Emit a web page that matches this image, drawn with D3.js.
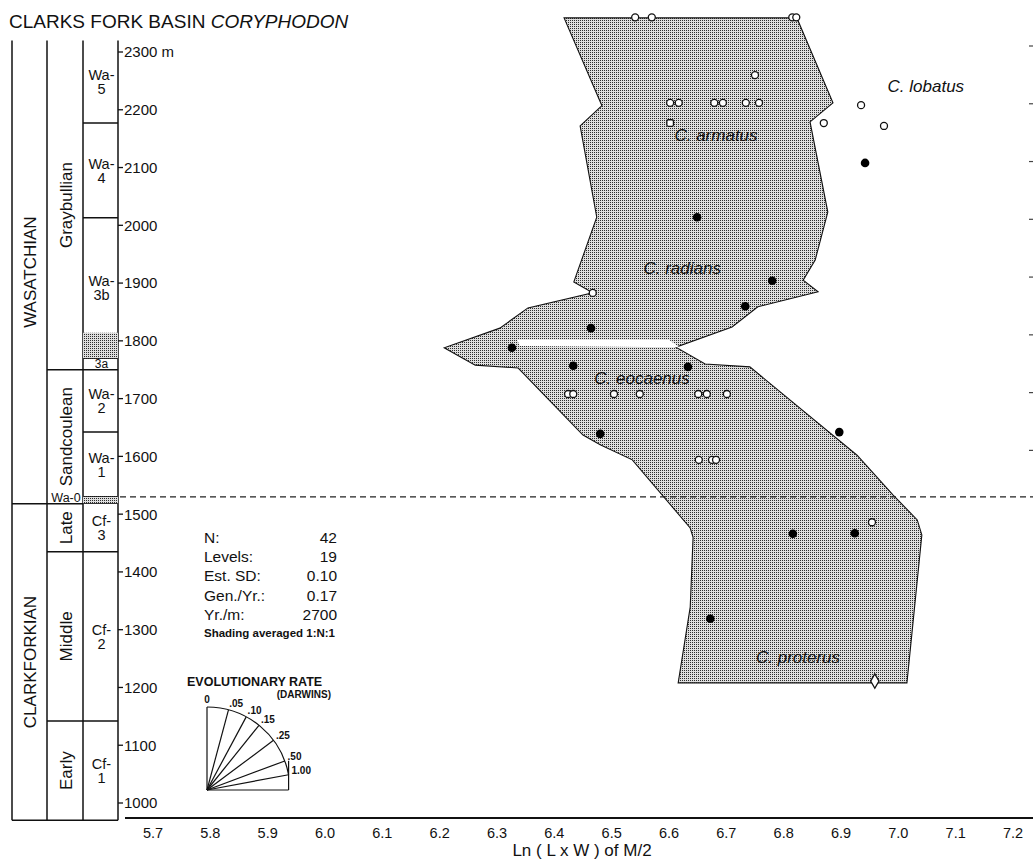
<!DOCTYPE html>
<html>
<head>
<meta charset="utf-8">
<script src="https://cdn.jsdelivr.net/npm/d3@7/dist/d3.min.js"></script>
<style>
body{margin:0;background:#fff}
svg{display:block}
text{font-family:"Liberation Sans",Arial,Helvetica,sans-serif;fill:#111}
</style>
</head>
<body>
<svg id="chart" width="1033" height="860"></svg>
<script>
// ---- data ----
const lnTicks = [5.7,5.8,5.9,6.0,6.1,6.2,6.3,6.4,6.5,6.6,6.7,6.8,6.9,7.0,7.1,7.2];
const meterTicks = [1000,1100,1200,1300,1400,1500,1600,1700,1800,1900,2000,2100,2200,2300];
const rightTicks = [1600,1700,1800,1900,2000,2100,2200,2300];

// stratigraphic column (meters)
const colBottom = 970, colTop = 2320;
const landAges = [
  {name:"CLARKFORKIAN", from:970, to:1518},
  {name:"WASATCHIAN", from:1518, to:2320}
];
const subAges = [
  {name:"Early", from:970, to:1142},
  {name:"Middle", from:1142, to:1435},
  {name:"Late", from:1435, to:1518},
  {name:"Sandcoulean", from:1518, to:1750},
  {name:"Graybullian", from:1750, to:2320}
];
const zones = [
  {l1:"Cf-", l2:"1", from:970, to:1142},
  {l1:"Cf-", l2:"2", from:1142, to:1435},
  {l1:"Cf-", l2:"3", from:1435, to:1519},
  {l1:"Wa-0", l2:"", from:1519, to:1530, shade:true, thin:true},
  {l1:"Wa-", l2:"1", from:1530, to:1642},
  {l1:"Wa-", l2:"2", from:1642, to:1750},
  {l1:"3a", l2:"", from:1750, to:1770, small:true},
  {l1:"Wa-", l2:"3b", from:1770, to:2013},
  {l1:"Wa-", l2:"4", from:2013, to:2177},
  {l1:"Wa-", l2:"5", from:2177, to:2320}
];
const zoneShade = [{from:1770, to:1814}];
const boundaryLevel = 1530;

// shaded range outline: [ln(LxW), meters]
const rangeOutline = [
  [6.417,2359],[6.823,2359],[6.886,2212],[6.846,2179],[6.877,2023],[6.855,1940],
  [6.834,1905],[6.860,1885],[6.755,1859],[6.710,1824],[6.612,1789],[6.663,1760],
  [6.741,1755],[6.928,1602],[6.991,1533],[7.033,1490],[7.041,1464],[7.015,1208],
  [6.616,1208],[6.637,1339],[6.642,1460],[6.637,1476],[6.536,1594],[6.480,1620],
  [6.450,1637],[6.337,1753],[6.262,1758],[6.208,1788],[6.305,1822],[6.354,1857],
  [6.467,1883],[6.434,1902],[6.474,2014],[6.445,2172],[6.483,2207]
];
// unshaded gap between the radians and eocaenus ranges
const rangeGap = [[6.335,1802],[6.600,1802],[6.618,1789],[6.340,1791]];

// specimens
const openPts = [
  [6.541,2360],[6.570,2360],[6.815,2360],[6.822,2360],
  [6.750,2260],
  [6.602,2212],[6.617,2212],[6.679,2212],[6.694,2212],[6.734,2212],[6.757,2212],
  [6.935,2208],[6.975,2172],[6.870,2177],
  [6.467,1883],
  [6.424,1708],[6.433,1708],[6.504,1708],[6.549,1708],[6.651,1708],[6.666,1708],[6.701,1708],
  [6.652,1594],[6.675,1594],[6.682,1594],
  [6.954,1486]
];
const squarePts = [[6.602,2177]];
const filledPts = [
  [6.942,2108],[6.649,2014],[6.780,1904],[6.733,1860],[6.464,1822],[6.326,1788],
  [6.433,1757],[6.633,1755],[6.480,1639],[6.897,1642],[6.816,1466],[6.924,1467],[6.672,1319]
];
const diamondPts = [[6.959,1211]];

const speciesLabels = [
  {name:"C. lobatus", ln:7.048, m:2231},
  {name:"C. armatus", ln:6.682, m:2146},
  {name:"C. radians", ln:6.623, m:1916},
  {name:"C. eocaenus", ln:6.553, m:1725},
  {name:"C. proterus", ln:6.825, m:1242}
];

const statLabels = ["N:","Levels:","Est. SD:","Gen./Yr.:","Yr./m:"];
const statValues = ["42","19","0.10","0.17","2700"];
const yrPerM = 2700;

const rates = [0,0.05,0.10,0.15,0.25,0.50,1.00];
const rateLabels = ["0",".05",".10",".15",".25",".50","1.00"];

// ---- setup ----
const svg = d3.select("#chart");
const x = d3.scaleLinear().domain([5.7,7.2]).range([153,1013]);
const y = d3.scaleLinear().domain([1000,2300]).range([803,52]);

// fine stipple screen
const defs = svg.append("defs");
const pat = defs.append("pattern").attr("id","dots")
  .attr("patternUnits","userSpaceOnUse").attr("width",2).attr("height",2);
pat.append("rect").attr("width",2).attr("height",2).attr("fill","#dedede");
pat.append("rect").attr("width",1).attr("height",1).attr("fill","#2c2c2c");

// title
const title = svg.append("text").attr("x",9).attr("y",28).attr("font-size",19);
title.append("tspan").text("CLARKS FORK BASIN ");
title.append("tspan").attr("font-style","italic").text("CORYPHODON");

// ---- stratigraphic column ----
const colX = [12,47,83,118];
const col = svg.append("g").attr("stroke","#111").attr("stroke-width",1.5).attr("fill","none");

zoneShade.concat(zones.filter(z=>z.shade)).forEach(z=>{
  svg.append("rect").attr("x",colX[2]).attr("width",colX[3]-colX[2])
    .attr("y",y(z.to)).attr("height",y(z.from)-y(z.to)).attr("fill","url(#dots)");
});

colX.forEach(cx=>{
  col.append("line").attr("x1",cx).attr("x2",cx).attr("y1",y(colTop)).attr("y2",y(colBottom));
});
col.append("line").attr("x1",colX[0]).attr("x2",colX[3]).attr("y1",y(colBottom)).attr("y2",y(colBottom));

landAges.forEach(a=>{
  if(a.from>colBottom) col.append("line").attr("x1",colX[0]).attr("x2",colX[1]).attr("y1",y(a.from)).attr("y2",y(a.from));
  svg.append("text").attr("transform",`translate(${(colX[0]+colX[1])/2+1},${(y(a.from)+y(a.to))/2}) rotate(-90)`)
    .attr("text-anchor","middle").attr("dominant-baseline","central").attr("font-size",17).text(a.name);
});
subAges.forEach(a=>{
  if(a.from>colBottom) col.append("line").attr("x1",colX[1]).attr("x2",colX[2]).attr("y1",y(a.from)).attr("y2",y(a.from));
  svg.append("text").attr("transform",`translate(${(colX[1]+colX[2])/2+1},${(y(a.from)+y(a.to))/2}) rotate(-90)`)
    .attr("text-anchor","middle").attr("dominant-baseline","central").attr("font-size",17).text(a.name);
});
zones.forEach(z=>{
  if(z.from>colBottom) col.append("line").attr("x1",colX[2]).attr("x2",colX[3]).attr("y1",y(z.from)).attr("y2",y(z.from));
  const cx = (colX[2]+colX[3])/2+1, cy = (y(z.from)+y(z.to))/2;
  if(z.thin){
    svg.append("text").attr("x",(colX[1]+colX[2])/2+1).attr("y",y(z.from)-1.5)
      .attr("text-anchor","middle").attr("font-size",12.5).text(z.l1);
  } else if(z.small){
    svg.append("text").attr("x",cx).attr("y",y(z.from)-1.5)
      .attr("text-anchor","middle").attr("font-size",12).text(z.l1);
  } else {
    const t = svg.append("text").attr("text-anchor","middle").attr("font-size",14.5);
    t.append("tspan").attr("x",cx).attr("y",cy-1.5).text(z.l1);
    t.append("tspan").attr("x",cx).attr("y",cy+12.5).text(z.l2);
  }
});

// y axis ticks
const yAx = svg.append("g");
meterTicks.forEach((m,i)=>{
  yAx.append("line").attr("x1",colX[3]).attr("x2",colX[3]+5).attr("y1",y(m)).attr("y2",y(m))
    .attr("stroke","#111").attr("stroke-width",1.3);
  yAx.append("text").attr("x",colX[3]+6).attr("y",y(m)).attr("dy","0.36em").attr("font-size",15)
    .text(i===meterTicks.length-1 ? m+" m" : m);
});
rightTicks.forEach(m=>{
  svg.append("line").attr("x1",1029).attr("x2",1033).attr("y1",y(m)-6).attr("y2",y(m)-6)
    .attr("stroke","#444").attr("stroke-width",1.2);
});

// x axis
svg.append("line").attr("x1",125).attr("x2",1033).attr("y1",818).attr("y2",818)
  .attr("stroke","#111").attr("stroke-width",1.8);
lnTicks.forEach(v=>{
  svg.append("text").attr("x",x(v)).attr("y",838).attr("text-anchor","middle").attr("font-size",14.5)
    .text(d3.format(".1f")(v));
});
svg.append("text").attr("x",582).attr("y",856).attr("text-anchor","middle").attr("font-size",17)
  .text("Ln ( L x W ) of M/2");

// ---- shaded range ----
const line = d3.line().x(d=>x(d[0])).y(d=>y(d[1]));
svg.append("path").attr("d",line(rangeOutline)+"Z").attr("fill","url(#dots)")
  .attr("stroke","#111").attr("stroke-width",1.1).attr("stroke-linejoin","miter");
svg.append("path").attr("d",line(rangeGap)+"Z").attr("fill","#fff");

// Wa-0 boundary
svg.append("line").attr("x1",colX[3]+2).attr("x2",1033).attr("y1",y(boundaryLevel)).attr("y2",y(boundaryLevel))
  .attr("stroke","#222").attr("stroke-width",1.2).attr("stroke-dasharray","6,4");

// species labels
speciesLabels.forEach(s=>{
  svg.append("text").attr("x",x(s.ln)).attr("y",y(s.m)).attr("text-anchor","middle")
    .attr("font-size",17).attr("font-style","italic").text(s.name);
});

// ---- specimens ----
svg.selectAll("circle.open").data(openPts).join("circle").attr("class","open")
  .attr("cx",d=>x(d[0])).attr("cy",d=>y(d[1])).attr("r",3.5)
  .attr("fill","#fff").attr("stroke","#111").attr("stroke-width",1.3);
svg.selectAll("rect.sq").data(squarePts).join("rect").attr("class","sq")
  .attr("x",d=>x(d[0])-3.3).attr("y",d=>y(d[1])-3.3).attr("width",6.6).attr("height",6.6).attr("rx",1.5)
  .attr("fill","#fff").attr("stroke","#111").attr("stroke-width",1.3);
svg.selectAll("circle.filled").data(filledPts).join("circle").attr("class","filled")
  .attr("cx",d=>x(d[0])).attr("cy",d=>y(d[1])).attr("r",4.3)
  .attr("fill","#000");
svg.selectAll("path.dia").data(diamondPts).join("path").attr("class","dia")
  .attr("transform",d=>`translate(${x(d[0])},${y(d[1])})`)
  .attr("d",d3.symbol(d3.symbolDiamond,60))
  .attr("fill","#fff").attr("stroke","#111").attr("stroke-width",1.3);

// ---- stats block ----
statLabels.forEach((s,i)=>{
  svg.append("text").attr("x",204).attr("y",543+i*19.2).attr("font-size",15.5).text(s);
  svg.append("text").attr("x",337).attr("y",543+i*19.2).attr("font-size",15.5)
    .attr("text-anchor","end").text(statValues[i]);
});
svg.append("text").attr("x",204).attr("y",637).attr("font-size",11.5).attr("font-weight","bold")
  .text("Shading averaged 1:N:1");

// ---- evolutionary rate fan ----
svg.append("text").attr("x",187).attr("y",686).attr("font-size",12.5).attr("font-weight","bold")
  .text("EVOLUTIONARY RATE");
svg.append("text").attr("x",331).attr("y",698).attr("text-anchor","end").attr("font-size",10).attr("font-weight","bold")
  .text("(DARWINS)");

const ox = 207, oy = 790, fr = 83;
const pxPerLn = x(1)-x(0), pxPerM = y(0)-y(1);
// angle from vertical for a rate in darwins (ln of an area => factor 2)
const ang = r => Math.atan(r*2*yrPerM*1e-6*pxPerLn/pxPerM);
const fan = svg.append("g").attr("stroke","#111").attr("stroke-width",1.2).attr("fill","none");
const aMax = ang(rates[rates.length-1]);
fan.append("path").attr("d",d3.arc()({innerRadius:fr,outerRadius:fr,startAngle:0,endAngle:aMax}))
  .attr("transform",`translate(${ox},${oy})`);
fan.append("line").attr("x1",ox).attr("x2",ox+fr*Math.sin(aMax)).attr("y1",oy).attr("y2",oy);
fan.append("line").attr("x1",ox+fr*Math.sin(aMax)).attr("x2",ox+fr*Math.sin(aMax))
  .attr("y1",oy).attr("y2",oy-fr*Math.cos(aMax)-14);
rates.forEach((r,i)=>{
  const a = ang(r);
  fan.append("line").attr("x1",ox).attr("y1",oy)
    .attr("x2",ox+fr*Math.sin(a)).attr("y2",oy-fr*Math.cos(a));
  const lx = ox+(fr+3)*Math.sin(a), ly = oy-(fr+3)*Math.cos(a);
  svg.append("text").attr("x",i===0?ox:lx).attr("y",i===0?oy-fr-4:ly)
    .attr("text-anchor",i===0?"middle":"start").attr("font-size",10).attr("font-weight","bold")
    .text(rateLabels[i]);
});
</script>
</body>
</html>
